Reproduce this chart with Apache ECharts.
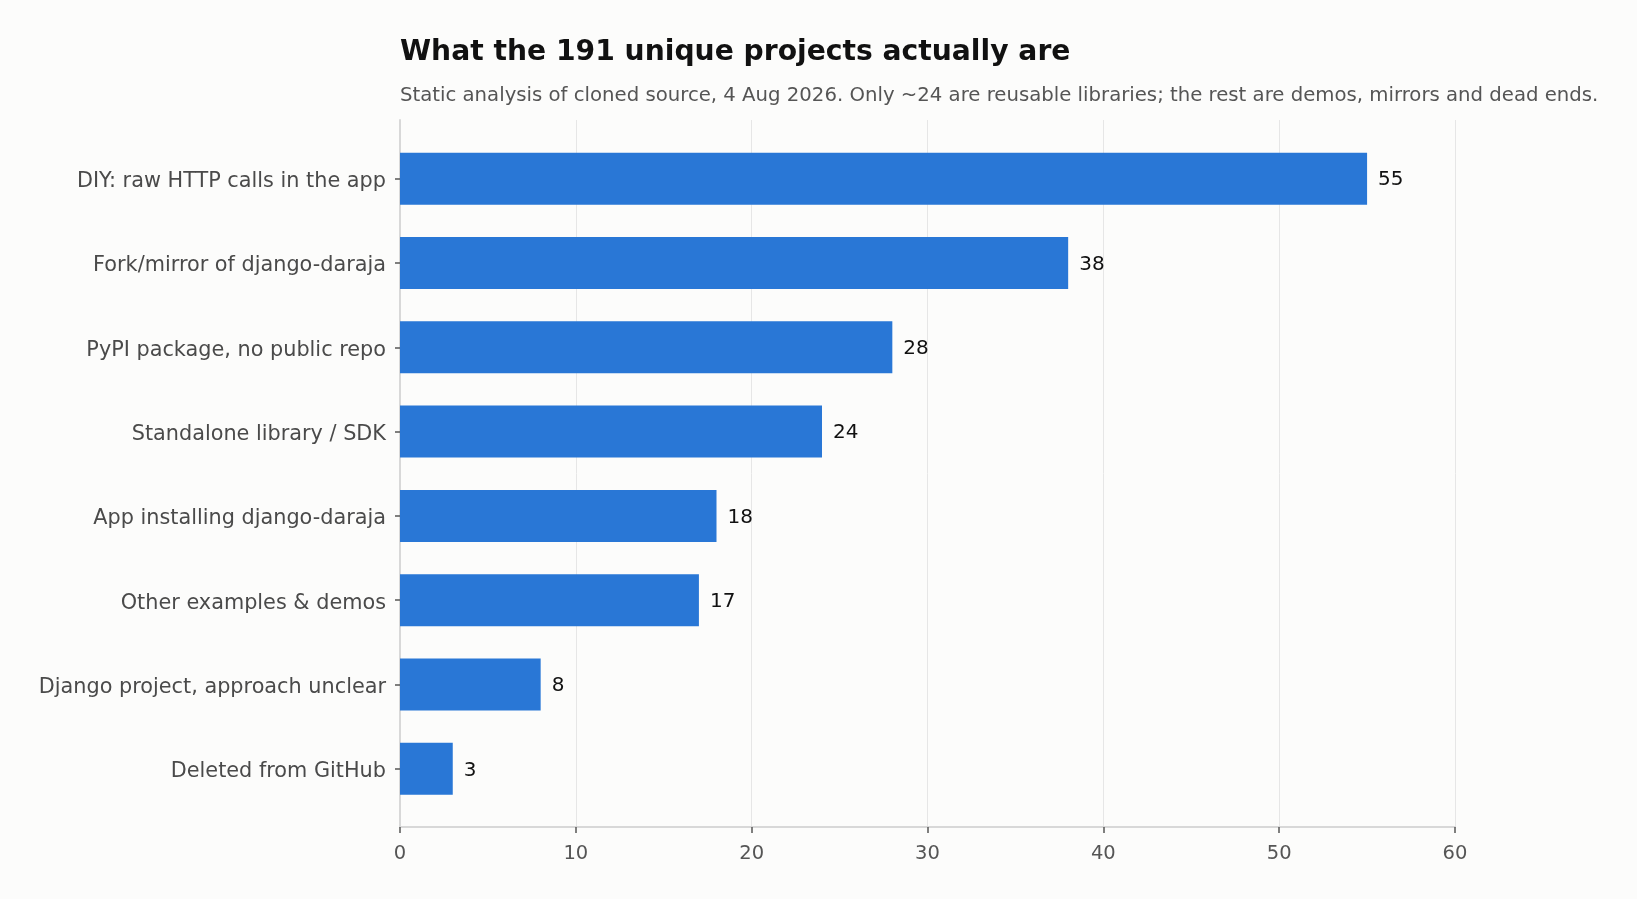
<!DOCTYPE html>
<html>
<head>
<meta charset="utf-8">
<script src="https://cdn.jsdelivr.net/npm/echarts@6/dist/echarts.min.js"></script>
<style>
    html, body { margin: 0; padding: 0; background: #fcfcfb; }
    #chart { width: 1637px; height: 899px; }
</style>
</head>
<body>
<div id="chart"></div>
<script>
// categories, top to bottom
const categories = [
    'DIY: raw HTTP calls in the app',
    'Fork/mirror of django-daraja',
    'PyPI package, no public repo',
    'Standalone library / SDK',
    'App installing django-daraja',
    'Other examples & demos',
    'Django project, approach unclear',
    'Deleted from GitHub'
];
const counts = [55, 38, 28, 24, 18, 17, 8, 3];

const titleText = 'What the 191 unique projects actually are';
const subtitleText = 'Static analysis of cloned source, 4 Aug 2026. Only ~24 are reusable libraries; the rest are demos, mirrors and dead ends.';

const font = 'DejaVu Sans';

let chart = echarts.init(document.getElementById('chart'));

// outer frame: x axis, grid lines and the y axis line
// inner grid: bars + category labels, padded inside the frame
let options = {
    backgroundColor: '#fcfcfb',
    animation: false,
    title: [
        {
            text: titleText,
            left: 395,
            top: 34,
            textStyle: { fontFamily: font, fontSize: 28.2, fontWeight: 'bold', color: '#111' }
        },
        {
            text: subtitleText,
            left: 395,
            top: 81,
            textStyle: { fontFamily: font, fontSize: 19.7, fontWeight: 'normal', color: '#555' }
        }
    ],
    grid: [
        { left: 400, right: 182, top: 120, bottom: 72, containLabel: false },
        { left: 400, right: 182, top: 136.5, bottom: 88, containLabel: false }
    ],
    xAxis: [
        {
            gridIndex: 0,
            type: 'value',
            min: 0,
            max: 60,
            interval: 10,
            axisLine: { show: true, lineStyle: { color: '#d8d8d8', width: 2 } },
            axisTick: { show: true, length: 6, lineStyle: { color: '#555', width: 1.5 } },
            axisLabel: { fontFamily: font, fontSize: 19.5, color: '#555', margin: 17 },
            splitLine: { show: true, lineStyle: { color: '#e6e6e6', width: 1 } }
        },
        {
            gridIndex: 1,
            type: 'value',
            min: 0,
            max: 60,
            show: false
        }
    ],
    yAxis: [
        {
            gridIndex: 0,
            type: 'value',
            min: 0,
            max: 1,
            axisLine: { show: true, lineStyle: { color: '#d8d8d8', width: 2 } },
            axisTick: { show: false },
            axisLabel: { show: false },
            splitLine: { show: false }
        },
        {
            gridIndex: 1,
            type: 'category',
            inverse: true,
            data: categories,
            axisLine: { show: false },
            axisTick: { show: true, length: 5, alignWithLabel: true, lineStyle: { color: '#555', width: 1.5 } },
            axisLabel: {
                margin: 14,
                formatter: (v) => '{c|' + v + '}',
                rich: {
                    c: { fontFamily: font, fontSize: 20.8, color: '#4a4a4a', padding: [6, 0, 0, 0] }
                }
            }
        }
    ],
    series: [
        {
            type: 'bar',
            xAxisIndex: 1,
            yAxisIndex: 1,
            data: counts,
            barCategoryGap: '38.3%',
            itemStyle: { color: '#2977d6' },
            label: {
                show: true,
                position: 'right',
                distance: 11,
                formatter: (p) => '{v|' + p.value + '}',
                rich: {
                    v: { fontFamily: font, fontSize: 20, color: '#111', padding: [3, 0, 0, 0] }
                }
            }
        }
    ]
};

chart.setOption(options);
</script>
</body>
</html>
